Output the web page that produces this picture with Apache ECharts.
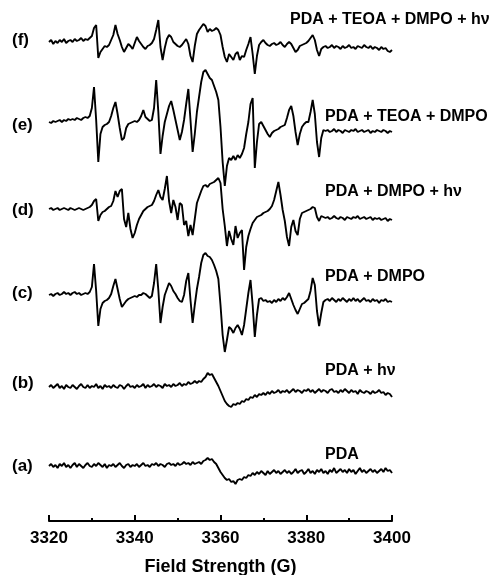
<!DOCTYPE html>
<html lang="en">
    <head>
        <meta charset="UTF-8">
        <title>EPR spectra</title>
        <script src="https://cdn.jsdelivr.net/npm/echarts@6.0.0/dist/echarts.min.js"></script>
        <style>
            html, body { margin: 0; padding: 0; background: #fff; }
        </style>
    </head>
    <body>
        <div id="chart_1" style="width:490px; height:575px;"></div>
        <script>
            // field axis: one point every 0.5 G from 3320 G
            var fieldStart = 3320;
            var fieldStep = 0.5;
            var xTicks = [3320, 3340, 3360, 3380, 3400];

            var names = ['(a)', '(b)', '(c)', '(d)', '(e)', '(f)'];
            var samples = ['PDA', 'PDA + h\u03bd', 'PDA + DMPO', 'PDA + DMPO + h\u03bd',
                'PDA + TEOA + DMPO', 'PDA + TEOA + DMPO + h\u03bd'];

            // signal intensity (arb. units)
            var specA = [
                0, 2, -1, 1, -2, 2, 0, 3, -1, 1,
                -2, 1, 3, -1, 2, 0, -2, 1, 3, 0,
                -1, 2, 0, 3, 1, -1, 2, -2, 1, 0,
                2, -1, 1, 3, 0, -2, 1, 2, -1, 1,
                0, 2, -1, 1, 3, 0, 1, -1, 2, 1,
                3, 0, 2, 1, -1, 2, 3, 1, 2, 0,
                3, 1, 2, 4, 2, 3, 1, 4, 2, 3,
                4, 2, 5, 6, 8, 6, 7, 4, 2, -2,
                -6, -9, -12, -14, -13, -16, -15, -18, -14, -13,
                -14, -11, -12, -9, -10, -7, -9, -6, -8, -5,
                -7, -9, -5, -8, -6, -4, -7, -5, -8, -6,
                -4, -7, -5, -8, -6, -3, -7, -5, -4, -8,
                -6, -3, -7, -5, -8, -4, -6, -3, -7, -5,
                -8, -4, -6, -2, -7, -5, -3, -6, -4, -7,
                -3, -6, -4, -8, -5, -2, -6, -4, -7, -5,
                -3, -6, -4, -7, -5, -3, -6, -2, -5, -4, -7
            ];
            var specB = [
                0, 2, -1, 1, 3, -1, 1, -2, 2, 0,
                -1, 2, 0, -2, 1, 3, 0, -1, 2, -1,
                1, 0, 3, -1, 1, -2, 2, 0, 1, -1,
                2, 0, -1, 2, 1, -2, 1, 3, 0, 1,
                -1, 2, 0, 1, 3, -1, 2, 0, 1, 3,
                0, 2, 1, -1, 3, 1, 2, 0, 3, 1,
                2, 4, 1, 3, 2, 5, 3, 4, 6, 4,
                6, 5, 8, 10, 14, 12, 13, 9, 5, 1,
                -4, -9, -14, -17, -19, -20, -17, -18, -16, -17,
                -14, -15, -12, -13, -10, -11, -8, -10, -7, -8,
                -6, -8, -5, -7, -4, -6, -5, -3, -6, -4,
                -5, -3, -6, -4, -2, -5, -3, -4, -6, -3,
                -4, -2, -5, -3, -6, -4, -2, -5, -3, -4,
                -6, -3, -2, -5, -4, -6, -3, -5, -2, -4,
                -6, -3, -5, -4, -7, -3, -5, -6, -4, -5,
                -7, -4, -6, -5, -3, -6, -5, -8, -6, -7, -10
            ];
            var specC = [
                0, 1, -1, 1, 2, 0, 1, 3, 1, 2,
                0, 2, 3, 1, 2, 0, 1, 2, 1, 3,
                8, 31, 4, -31, -14, -8, -6, -5, -3, 1,
                9, 16, 6, -4, -12, -9, -6, -4, -3, -2,
                -1, -2, 0, 0, 2, 1, -1, -3, -1, 12,
                31, 5, -28, -12, 0, 6, 12, 9, 4, 1,
                -3, -6, -7, 0, 14, 22, -5, -28, -10, 6,
                18, 32, 40, 42, 39, 38, 35, 30, 24, 16,
                -10, -40, -57, -45, -32, -34, -38, -33, -30, -34,
                -40, -30, -14, 2, 15, -10, -42, -20, -4, -3,
                -6, -5, -7, -6, -8, -5, -7, -4, -6, -3,
                -5, -2, 2, -4, -10, -15, -19, -14, -9, -8,
                -6, -4, 4, 17, 10, -16, -31, -18, -7, -5,
                -4, -6, -3, -5, -7, -4, -6, -3, -5, -7,
                -4, -6, -3, -6, -4, -7, -5, -3, -6, -5,
                -7, -4, -6, -5, -8, -5, -6, -4, -7, -6, -7
            ];
            var specD = [
                0, 1, -1, 0, 1, -1, 0, 1, 0, -1,
                1, 0, -1, 0, 1, 0, -1, 0, 1, 2,
                4, 8, 10, -12, -6, -3, -2, 0, 2, 3,
                8, 18, 12, 18, 20, -10, -18, -4, -20, -29,
                -24, -16, -10, -6, -2, 0, 2, 3, 4, 8,
                14, 19, 12, 9, 20, 33, 8, -4, 9, 2,
                -11, 6, 4, -16, -12, -27, -16, -26, -10, 6,
                12, 18, 23, 24, 22, 25, 26, 27, 29, 31,
                26, 0, -17, -37, -22, -30, -36, -17, -29, -24,
                -21, -61, -38, -27, -20, -14, -11, -8, -7, -6,
                -4, -3, -2, 0, 3, 9, 18, 27, 14, -1,
                -12, -28, -37, -18, -11, -22, -26, -10, -4, -3,
                -2, -1, 0, 2, 1, -8, -12, -7, -8, -9,
                -8, -10, -9, -7, -9, -10, -8, -9, -11, -8,
                -9, -10, -8, -9, -7, -10, -9, -8, -10, -9,
                -8, -11, -9, -10, -9, -11, -10, -9, -12, -10, -11
            ];
            var specE = [
                0, -1, 1, 0, 1, 2, 0, 2, 1, 3,
                2, 3, 2, 4, 3, 2, 4, 5, 4, 6,
                14, 35, 2, -40, -12, -5, -3, -2, 0, 6,
                14, 20, 8, -6, -18, -16, -6, -2, -1, 0,
                1, 0, 2, 6, 12, 5, 3, 1, 2, 14,
                42, 10, -32, -14, 0, 8, 16, 21, 12, 2,
                -8, -18, -10, 2, 18, 33, 2, -30, -12, 10,
                25, 40, 50, 52, 48, 44, 42, 36, 30, 22,
                -5, -40, -64, -44, -36, -38, -34, -38, -33, -36,
                -32, -26, -12, 0, 18, 24, -46, -20, -2, 0,
                -4, -8, -12, -15, -11, -9, -8, -7, -5, -4,
                -3, 4, 12, 16, 6, -10, -23, -12, -5, -2,
                0, 0, 10, 22, 8, -20, -35, -16, -8, -9,
                -8, -10, -9, -7, -10, -8, -9, -11, -8, -9,
                -10, -8, -9, -7, -10, -9, -8, -10, -9, -8,
                -11, -9, -10, -8, -9, -10, -8, -9, -11, -9, -10
            ];
            var specF = [
                0, 2, -2, 1, -1, 2, 0, 3, -1, 1,
                2, 0, 3, 1, 2, 4, 1, 3, 2, 4,
                6, 14, 17, -16, -10, -7, -4, -5, -3, 2,
                7, 17, 8, 2, -5, -10, -6, -2, -4, -7,
                -1, 5, 1, -2, -5, -7, -4, -3, -1, 3,
                12, 22, -5, -18, -6, 3, 7, 5, 0, -2,
                -4, -5, -3, 0, 3, -2, -14, -20, -4, 8,
                12, 15, 18, 16, 10, 13, 11, 12, 14, 12,
                7, -5, -15, -20, -12, -15, -18, -12, -10, -18,
                -14, -15, -8, -2, 5, -12, -32, -14, -3, 0,
                2, -1, -3, -4, -2, -1, -3, -2, 0, -3,
                -5, -2, 0, -2, -6, -10, -8, -4, -3, -2,
                -1, 1, 4, 7, 2, -8, -14, -7, -5, -4,
                -6, -5, -3, -6, -4, -5, -7, -4, -6, -5,
                -3, -6, -5, -7, -4, -5, -6, -3, -5, -6,
                -4, -7, -5, -6, -8, -5, -7, -6, -9, -10, -8
            ];
            var spectra = [specA, specB, specC, specD, specE, specF];

            // vertical stacking of the traces and label placement (px)
            var offsets = [55, 134, 226, 312, 399, 479];
            var nameY = [468, 385, 295, 212, 127, 42];
            var sampleX = [325, 325, 325, 325, 325, 290];
            var sampleY = [456, 372, 278, 193, 118, 21];

            let myChart = echarts.init(document.getElementById("chart_1"));

            var series = spectra.map(function (spec, k) {
                return {
                    name: samples[k],
                    type: 'line',
                    showSymbol: false,
                    silent: true,
                    lineStyle: { color: '#000', width: 1.9 },
                    data: spec.map(function (v, i) {
                        return [fieldStart + i * fieldStep, offsets[k] + v];
                    })
                };
            });

            var font = '"Liberation Sans", Arial, sans-serif';
            var graphics = [];
            for (var k = 0; k < names.length; k++) {
                graphics.push({
                    type: 'text', left: 12, top: nameY[k] - 10,
                    style: { text: names[k], fill: '#000', font: 'bold 17px ' + font }
                });
                graphics.push({
                    type: 'text', left: sampleX[k], top: sampleY[k] - 9,
                    style: { text: samples[k], fill: '#000', font: 'bold 16px ' + font }
                });
            }

            option = {
                animation: false,
                backgroundColor: '#fff',
                grid: { left: 49, right: 98, top: 0, bottom: 54, outerBoundsMode: 'none' },
                xAxis: {
                    type: 'value',
                    min: xTicks[0],
                    max: xTicks[xTicks.length - 1],
                    interval: 20,
                    name: 'Field Strength (G)',
                    nameLocation: 'middle',
                    nameGap: 37,
                    nameTextStyle: { color: '#000', fontSize: 18, fontWeight: 'bold', fontFamily: font },
                    axisLine: { lineStyle: { color: '#000', width: 2 } },
                    axisTick: { inside: true, length: 6, lineStyle: { color: '#000', width: 2 } },
                    minorTick: { show: true, splitNumber: 2, length: 3, lineStyle: { color: '#000', width: 2 } },
                    axisLabel: {
                        color: '#000', fontSize: 17, fontWeight: 'bold', fontFamily: font, margin: 9,
                        formatter: function (v) { return String(v); }
                    },
                    splitLine: { show: false }
                },
                yAxis: {
                    type: 'value',
                    min: 0,
                    max: 521,
                    show: false
                },
                graphic: graphics,
                series: series
            };

            myChart.setOption(option);
        </script>
    </body>
</html>
